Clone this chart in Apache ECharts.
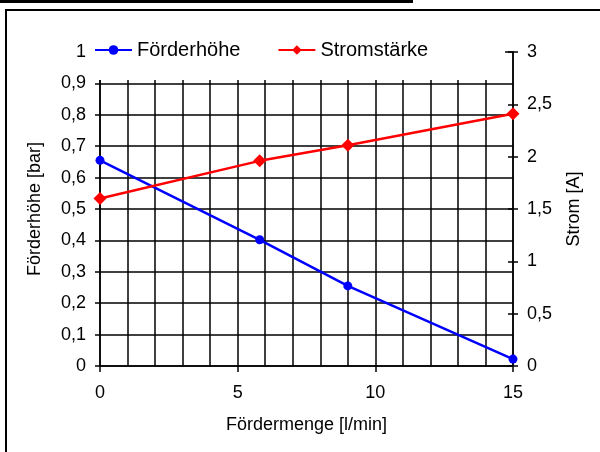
<!DOCTYPE html>
<html><head><meta charset="utf-8">
<script src="https://cdn.jsdelivr.net/npm/echarts@6/dist/echarts.min.js"></script>
<style>html,body{margin:0;padding:0;background:#fff}#c{width:600px;height:452px}</style>
</head><body><div id="c"></div>
<script>
const flowX = [0, 5.8, 9, 15];
const headValues = [0.655, 0.402, 0.255, 0.022];
const currentValues = [1.6, 1.96, 2.11, 2.41];
const xTicks = [0, 5, 10, 15];
const seriesNames = ['Förderhöhe', 'Stromstärke'];

const fmt = v => String(Math.round(v * 10) / 10).replace('.', ',');
const font = 'Liberation Sans, Arial, sans-serif';
const gridLine = { color: '#000', width: 1.5 };
const chart = echarts.init(document.getElementById('c'));
chart.setOption({
  animation: false,
  textStyle: { fontFamily: font },
  grid: { left: 100, right: 87, top: 52, bottom: 86 },
  graphic: [
    { type: 'rect', z: 100, shape: { x: 6, y: 10, width: 700, height: 600 }, style: { fill: 'none', stroke: '#000', lineWidth: 2 } },
    { type: 'rect', z: 100, shape: { x: 0, y: 0, width: 413, height: 3 }, style: { fill: '#000' } },
    { type: 'rect', z: 3, shape: { x: 90, y: 30, width: 415, height: 50 }, style: { fill: '#fff' } }
  ],
  legend: {
    z: 10, left: 89, top: 35, itemWidth: 37, itemHeight: 12, itemGap: 37,
    textStyle: { fontSize: 20, color: '#000', fontFamily: font },
    data: seriesNames
  },
  xAxis: [
    { type: 'value', position: 'bottom', min: 0, max: 15, interval: 1,
      axisLine: { onZero: false, lineStyle: gridLine },
      axisTick: { show: false }, axisLabel: { show: false },
      splitLine: { show: true, lineStyle: gridLine } },
    { type: 'value', position: 'bottom', min: 0, max: 15, interval: 5,
      axisLine: { show: false, onZero: false },
      axisTick: { show: true, length: 6, lineStyle: { color: '#000', width: 1.5 } },
      axisLabel: { fontSize: 18, color: '#000', margin: 18, fontFamily: font,
        formatter: v => xTicks.includes(v) ? fmt(v) : '' },
      splitLine: { show: false },
      name: 'Fördermenge [l/min]', nameLocation: 'middle', nameGap: 50,
      nameTextStyle: { fontSize: 18, color: '#000', fontFamily: font } }
  ],
  yAxis: [
    { type: 'value', position: 'left', min: 0, max: 1, interval: 0.1,
      axisLine: { show: true, onZero: false, lineStyle: gridLine },
      axisTick: { show: true, length: 5, lineStyle: { color: '#000', width: 1.5 } },
      axisLabel: { fontSize: 18, color: '#000', margin: 14, formatter: fmt, fontFamily: font },
      splitLine: { show: true, lineStyle: gridLine },
      name: 'Förderhöhe [bar]', nameLocation: 'middle', nameGap: 56,
      nameTextStyle: { fontSize: 18, color: '#000', fontFamily: font } },
    { type: 'value', position: 'right', min: 0, max: 3, interval: 0.5,
      axisLine: { show: true, onZero: false, lineStyle: gridLine },
      axisTick: { show: true, length: 5, lineStyle: { color: '#000', width: 1.5 } },
      axisLabel: { fontSize: 18, color: '#000', margin: 14, formatter: fmt, fontFamily: font },
      splitLine: { show: false },
      name: 'Strom [A]', nameLocation: 'middle', nameGap: 52,
      nameTextStyle: { fontSize: 18, color: '#000', fontFamily: font } },
    { type: 'value', position: 'right', min: 0, max: 3, interval: 0.5,
      axisLine: { show: false, onZero: false },
      axisTick: { show: true, inside: true, length: 5, lineStyle: { color: '#000', width: 1.5 } },
      axisLabel: { show: false }, splitLine: { show: false } }
  ],
  series: [
    { name: seriesNames[0], type: 'line', xAxisIndex: 0, yAxisIndex: 0,
      data: flowX.map((x, i) => [x, headValues[i]]),
      symbol: 'circle', symbolSize: 9, z: 5,
      lineStyle: { color: '#0000ff', width: 2.5 }, itemStyle: { color: '#0000ff' } },
    { name: seriesNames[1], type: 'line', xAxisIndex: 0, yAxisIndex: 1,
      data: flowX.map((x, i) => [x, currentValues[i]]),
      symbol: 'diamond', symbolSize: 13, z: 5,
      lineStyle: { color: '#ff0000', width: 2.5 }, itemStyle: { color: '#ff0000' } }
  ]
});
</script></body></html>
